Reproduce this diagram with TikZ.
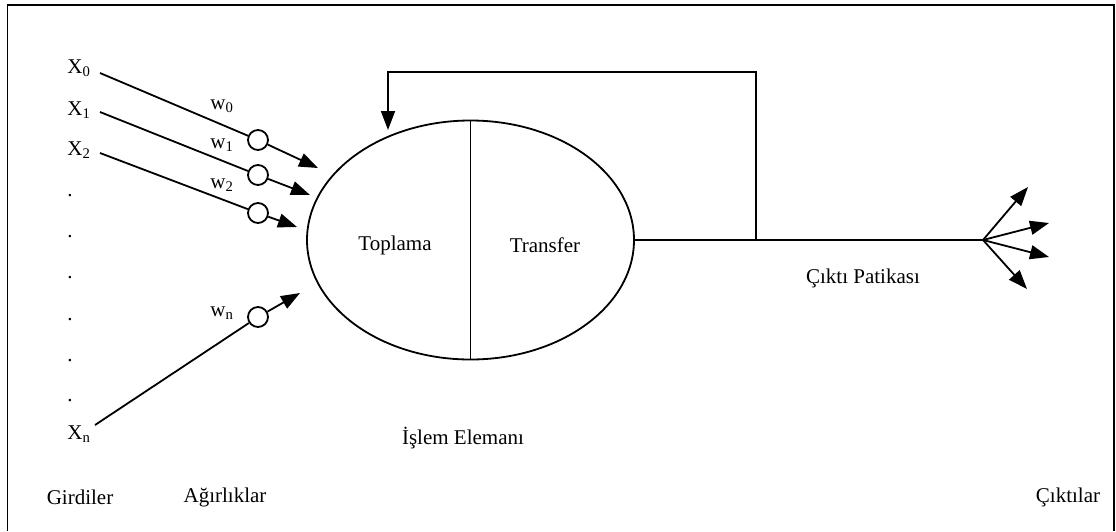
\documentclass[tikz,border=0pt]{standalone}
\usepackage{fontspec}
\setmainfont{Liberation Serif}
\usetikzlibrary{arrows.meta,shapes.geometric}
\begin{document}
\begin{tikzpicture}[x=1pt,y=-1pt,
  line width=1.8pt,
  lbl/.style={inner sep=0pt,font=\fontsize{21}{24}\selectfont},
  wcirc/.style={draw,circle,minimum size=20pt,inner sep=0pt,fill=white},
  arr/.style={-{Triangle[length=19pt,width=14pt]}},
  pelem/.style={draw,ellipse,minimum width=327pt,minimum height=239pt,inner sep=0pt}]
\useasboundingbox (0,0) rectangle (1116,531);
% frame
\draw (7.5,531) -- (7.5,5) -- (1114,5) -- (1114,531);
% inputs
\node[lbl] (x0) at (79,68) {X\textsubscript{0}};
\node[lbl] (x1) at (79,110) {X\textsubscript{1}};
\node[lbl] (x2) at (79,150) {X\textsubscript{2}};
\node[lbl] (xn) at (79,434) {X\textsubscript{n}};
\foreach \yy/\nm in {196/d1,237/d2,278/d3,320/d4,361/d5,401/d6}
  \node[lbl] (\nm) at (70,\yy) {.};
\coordinate (s0) at (100,73);
\coordinate (s1) at (100,112);
\coordinate (s2) at (100,153);
\coordinate (sn) at (95,425);
% weights
\node[wcirc] (c0) at (258,140) {};
\node[wcirc] (c1) at (258,175) {};
\node[wcirc] (c2) at (258,213) {};
\node[wcirc] (cn) at (258,317) {};
\node[lbl] (w0) at (222,106) {w\textsubscript{0}};
\node[lbl] (w1) at (222,145) {w\textsubscript{1}};
\node[lbl] (w2) at (222,185) {w\textsubscript{2}};
\node[lbl] (wn) at (222,313) {w\textsubscript{n}};
\coordinate (t0) at (318,168);
\coordinate (t1) at (310,195);
\coordinate (t2) at (297,227);
\coordinate (tn) at (300,293);
\draw (s0) -- (c0); \draw[arr] (c0) -- (t0);
\draw (s1) -- (c1); \draw[arr] (c1) -- (t1);
\draw (s2) -- (c2); \draw[arr] (c2) -- (t2);
\draw (sn) -- (cn); \draw[arr] (cn) -- (tn);
% processing element
\node[pelem] (pe) at (470.5,240) {};
\draw (pe.north) -- (pe.south);
\node[lbl] (top) at (395,245) {Toplama};
\node[lbl] (trf) at (545,245) {Transfer};
\node[lbl] (ie) at (463,438) {İşlem Elemanı};
% output path
\coordinate (hub) at (983,240);
\coordinate (fb) at (756,240);
\coordinate (fbtop) at (756,72);
\coordinate (fbin) at (388,130);
\draw (pe.east) -- (hub);
\draw[arr] (fb) -- (fbtop) -| (fbin);
\coordinate (o1) at (1028,187);
\coordinate (o2) at (1049,223);
\coordinate (o3) at (1049,257);
\coordinate (o4) at (1027,289);
\draw[arr] (hub) -- (o1);
\draw[arr] (hub) -- (o2);
\draw[arr] (hub) -- (o3);
\draw[arr] (hub) -- (o4);
\node[lbl] (cp) at (863,278) {Çıktı Patikası};
% bottom labels
\node[lbl] (gir) at (80,497) {Girdiler};
\node[lbl] (agr) at (225,497) {Ağırlıklar};
\node[lbl] (cik) at (1068,497) {Çıktılar};
\end{tikzpicture}
\end{document}
